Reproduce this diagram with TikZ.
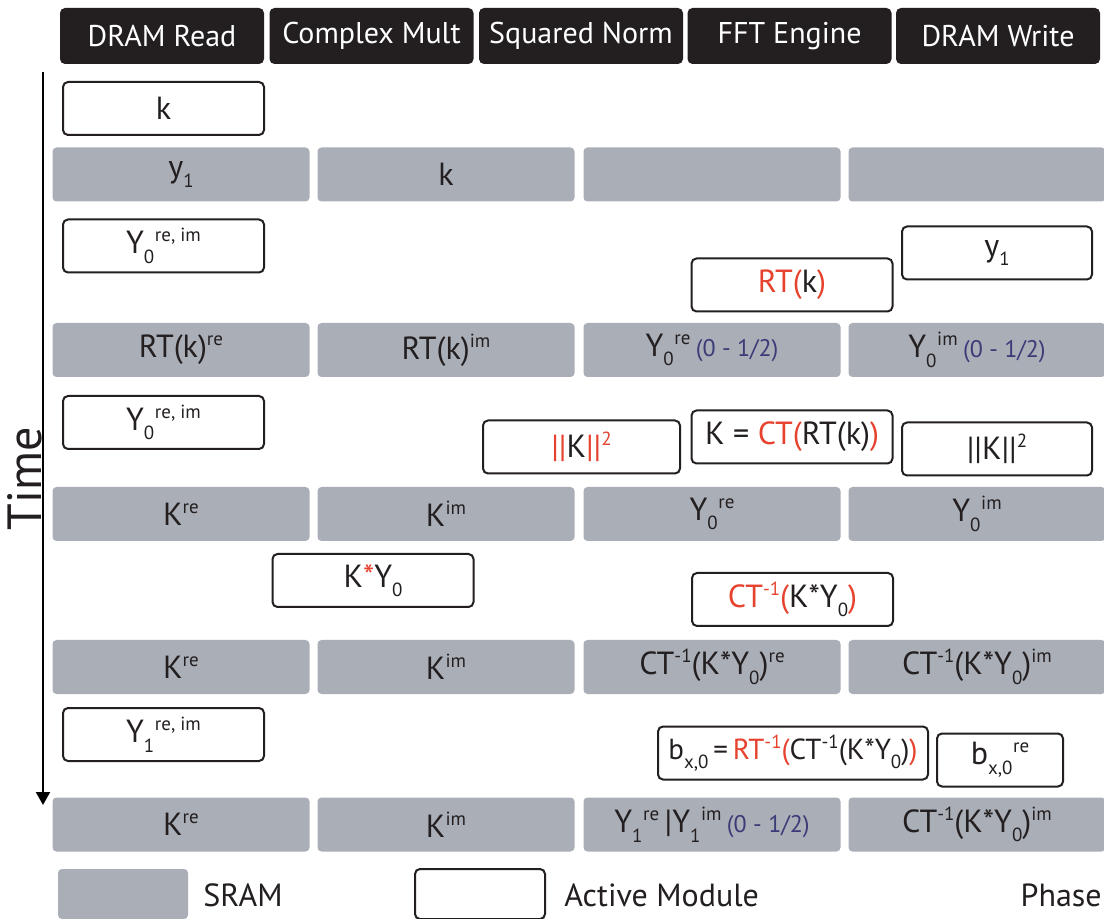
\documentclass[tikz,border=0pt]{standalone}
\usepackage{fontspec}
\setmainfont{PT Sans}
\usetikzlibrary{arrows.meta}
\definecolor{hdr}{HTML}{231F20}
\definecolor{sramc}{HTML}{AAAEB7}
\definecolor{txt}{HTML}{231F20}
\definecolor{hot}{HTML}{E6422D}
\definecolor{navy}{HTML}{3B3B78}
\newcommand\Sup[1]{\raisebox{0.75ex}{\fontsize{9.5}{10}\selectfont #1}}
\newcommand\Sub[1]{\raisebox{-0.6ex}{\fontsize{9.5}{10}\selectfont #1}}
\newcommand\SubSup[2]{\Sub{#1}\kern0.02em\Sup{#2}}
\newcommand\Hot[1]{\textcolor{hot}{#1}}
\newcommand\Half{\,{\color{navy}\fontsize{12}{12}\selectfont (0 - 1/2)}}
\tikzset{
  hdrbox/.style={fill=hdr, rounded corners=2.5pt, text=white, font=\fontsize{15}{18}\selectfont,
    minimum width=102pt, minimum height=28pt, inner sep=0pt},
  srambox/.style={fill=sramc, rounded corners=2pt, text=txt, font=\fontsize{16}{19}\selectfont,
    minimum width=128.5pt, minimum height=27pt, inner sep=0pt},
  actbox/.style={draw=txt, line width=1pt, fill=white, rounded corners=2.5pt, text=txt,
    font=\fontsize{16}{19}\selectfont, minimum width=100.5pt, minimum height=26.5pt, inner sep=0pt},
  legtext/.style={text=txt, font=\fontsize{16}{19}\selectfont, inner sep=0pt}
}
\begin{document}
\begin{tikzpicture}[x=0.5pt, y=-0.5pt]
\path[use as bounding box, fill=white] (0,0) rectangle (1104,919);
\clip (0,0) rectangle (1104,919);

% headers
\node[hdrbox] (h1) at (162,36) {DRAM Read};
\node[hdrbox] (h2) at (371.5,36) {Complex Mult};
\node[hdrbox] (h3) at (581,36) {Squared Norm};
\node[hdrbox] (h4) at (789.5,36) {FFT Engine};
\node[hdrbox] (h5) at (998,36) {DRAM Write};

% time axis
\coordinate (t0) at (43,72);
\coordinate (t1) at (43,805);
\draw[line width=1pt, -{Triangle[length=6.5pt, width=7pt]}] (t0) -- (t1);
\node[text=txt, font=\fontsize{24}{27}\selectfont, rotate=90, inner sep=0pt] (time) at (25,479) {Time};

% phase 1
\node[actbox] (a1a) at (163.5,108.5) {k};
\node[srambox] (s1a) at (181,174.5) {y\Sub{1}};
\node[srambox] (s1b) at (446,174.5) {k};
\node[srambox] (s1c) at (712,174.5) {};
\node[srambox] (s1d) at (977,174.5) {};

% phase 2
\node[actbox] (a2a) at (163.5,246) {Y\SubSup{0}{re, im}};
\node[actbox] (a2d) at (792,285) {\Hot{RT(}k\Hot{)}};
\node[actbox, minimum width=95pt] (a2e) at (997,253) {y\Sub{1}};
\node[srambox] (s2a) at (181,350) {RT(k)\Sup{re}};
\node[srambox] (s2b) at (446,350) {RT(k)\Sup{im}};
\node[srambox] (s2c) at (712,350) {Y\SubSup{0}{re}\Half};
\node[srambox] (s2d) at (977,350) {Y\SubSup{0}{im}\Half};

% phase 3
\node[actbox] (a3a) at (163.5,422.5) {Y\SubSup{0}{re, im}};
\node[actbox, minimum width=98.5pt] (a3c) at (581.5,447) {\Hot{||}K\Hot{||\Sup{2}}};
\node[actbox] (a3d) at (792,437) {K = \Hot{CT(}RT(k)\Hot{)}};
\node[actbox, minimum width=95pt] (a3e) at (997,449) {||K||\Sup{2}};
\node[srambox] (s3a) at (181,514) {K\Sup{re}};
\node[srambox] (s3b) at (446,514) {K\Sup{im}};
\node[srambox] (s3c) at (712,514) {Y\SubSup{0}{re}};
\node[srambox] (s3d) at (977,514) {Y\SubSup{0}{im}};

% phase 4
\node[actbox] (a4b) at (373,580.5) {K\Hot{*}Y\Sub{0}};
\node[actbox] (a4d) at (792.5,599.5) {\Hot{CT\Sup{-1}(}K*Y\Sub{0}\Hot{)}};
\node[srambox] (s4a) at (181,667) {K\Sup{re}};
\node[srambox] (s4b) at (446,667) {K\Sup{im}};
\node[srambox] (s4c) at (712,667) {CT\Sup{-1}(K*Y\Sub{0})\Sup{re}};
\node[srambox] (s4d) at (977,667) {CT\Sup{-1}(K*Y\Sub{0})\Sup{im}};

% phase 5
\node[actbox] (a5a) at (163.5,734.5) {Y\SubSup{1}{re, im}};
\node[actbox, minimum width=135pt, font=\fontsize{14.5}{17}\selectfont] (a5d) at (793,753) {b\Sub{x,0}\,=\,\Hot{RT\Sup{-1}(}CT\Sup{-1}(K*Y\Sub{0})\Hot{)}};
\node[actbox, minimum width=63pt] (a5e) at (1000,760) {b\SubSup{x,0}{re}};
\node[srambox] (s5a) at (181,824.5) {K\Sup{re}};
\node[srambox] (s5b) at (446,824.5) {K\Sup{im}};
\node[srambox] (s5c) at (712,824.5) {Y\SubSup{1}{re}\,|Y\SubSup{1}{im}\Half};
\node[srambox] (s5d) at (977,824.5) {CT\Sup{-1}(K*Y\Sub{0})\Sup{im}};

% legend
\node[srambox, minimum width=65pt, minimum height=25pt] (legs) at (123,894) {};
\node[legtext, anchor=west] (legst) at (203,895) {SRAM};
\node[actbox, minimum width=65pt, minimum height=25pt] (lega) at (480,894) {};
\node[legtext, anchor=west] (legat) at (564,895) {Active Module};
\node[legtext, anchor=east] (phase) at (1102,895) {Phase};
\end{tikzpicture}
\end{document}
